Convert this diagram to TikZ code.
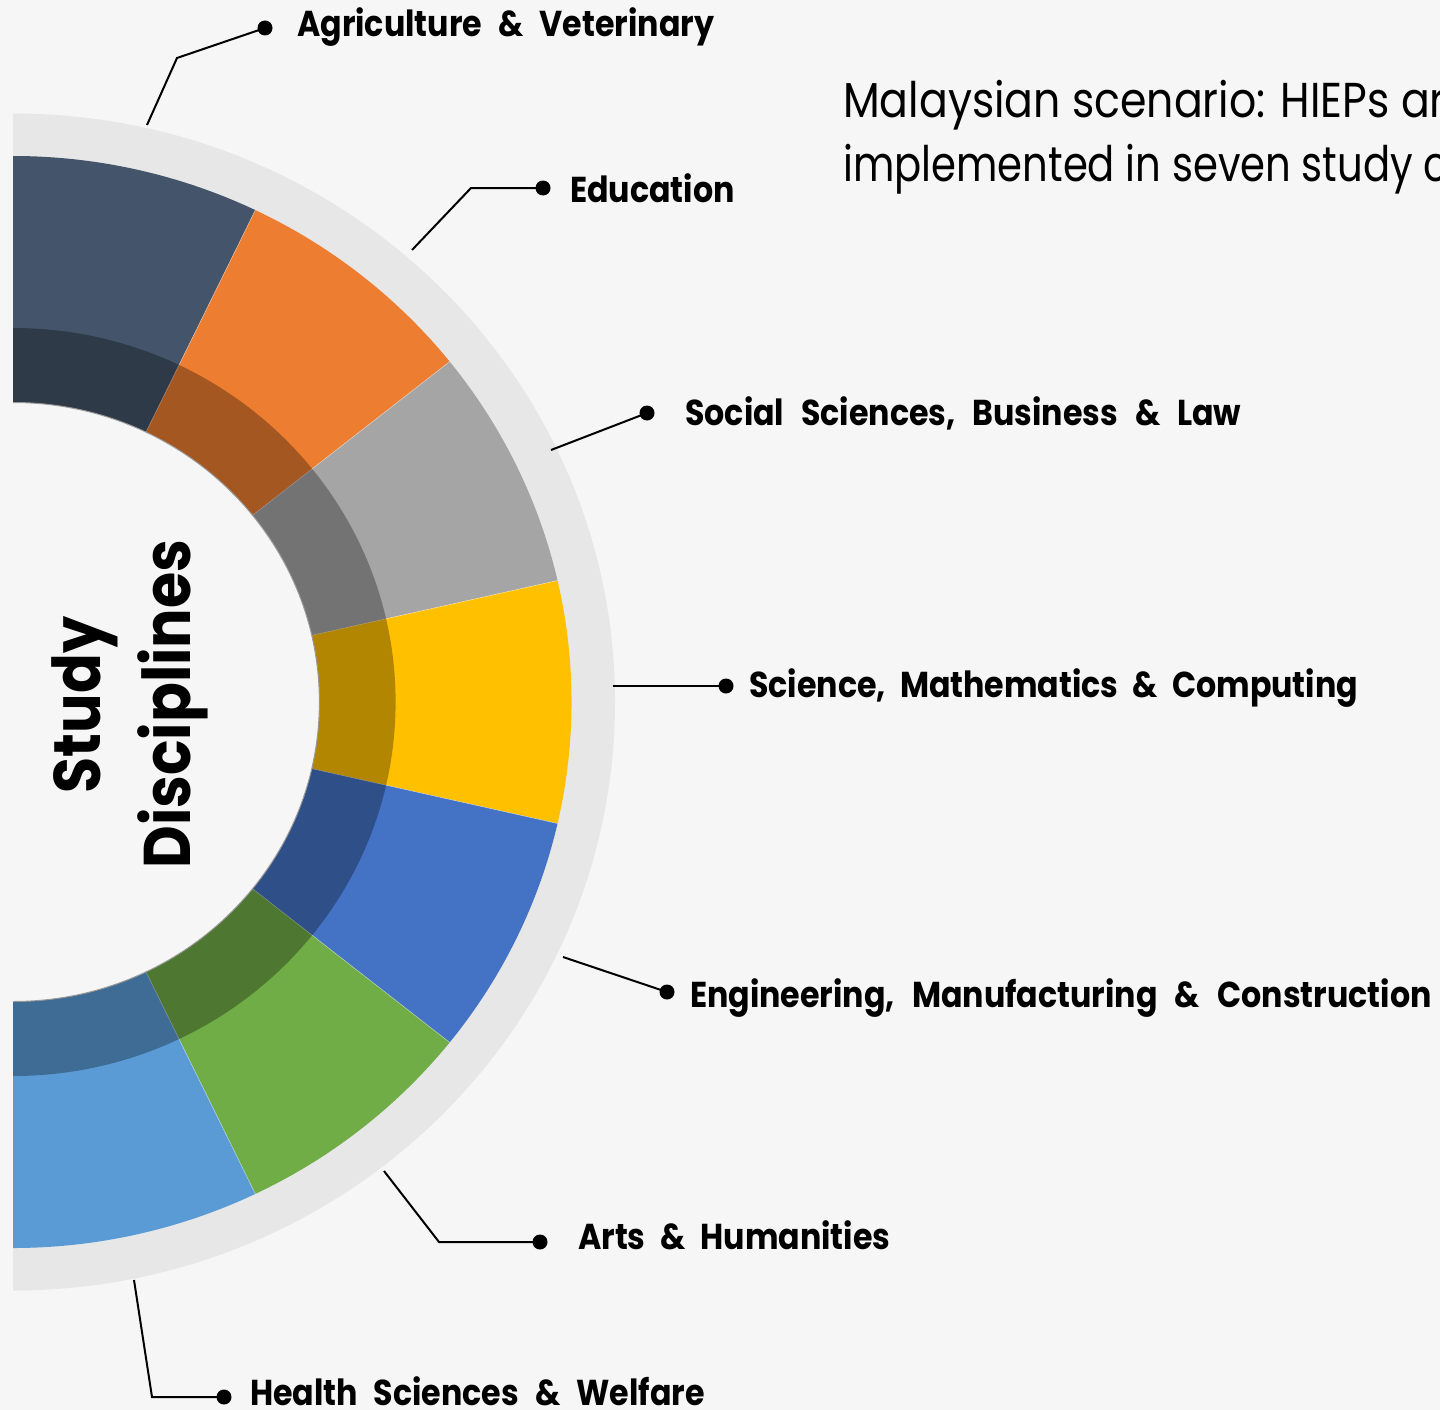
\documentclass[tikz,border=0pt]{standalone}
\usepackage{fontspec}
\setmainfont{Poppins}
\newfontfamily\labelfont{Poppins}[FakeStretch=0.88]
\newfontfamily\titlefont{Poppins}[FakeStretch=0.87]
\newfontfamily\titlefontb{Poppins}[FakeStretch=0.82]
\newfontfamily\hubfont{Poppins}[FakeStretch=0.89]
\definecolor{bg}{HTML}{F6F6F6}
\definecolor{ring}{HTML}{E7E7E7}
\definecolor{cSlate}{HTML}{44546A}
\definecolor{cOrange}{HTML}{ED7D31}
\definecolor{cGray}{HTML}{A5A5A5}
\definecolor{cGold}{HTML}{FFC000}
\definecolor{cBlue}{HTML}{4472C4}
\definecolor{cGreen}{HTML}{70AD47}
\definecolor{cSky}{HTML}{5B9BD5}
\begin{document}
\begin{tikzpicture}[x=1pt,y=1pt,
  leader/.style={line width=2pt, black},
  dotmark/.style={circle, fill=black, inner sep=0pt, minimum size=15pt},
  lab/.style={anchor=base west, inner sep=0pt,
    font=\labelfont\bfseries\fontsize{36}{40}\selectfont},
  hub/.style={anchor=base, inner sep=0pt, rotate=90,
    font=\hubfont\bfseries\fontsize{66}{70}\selectfont},
  head/.style={anchor=base west, inner sep=0pt}]
\useasboundingbox (0,0) rectangle (1440,-1410);
\clip (0,0) rectangle (1440,-1410);
\fill[bg] (0,0) rectangle (1440,-1410);

% half donut
\begin{scope}[shift={(13,-702)}, xscale=1.023]
  \fill[ring] (90:588.5pt) arc[start angle=90, end angle=-90, radius=588.5pt] -- cycle;
  \foreach \c [count=\i from 0] in {cSlate,cOrange,cGray,cGold,cBlue,cGreen,cSky} {
    \pgfmathsetmacro\aa{90-\i*180/7}
    \pgfmathsetmacro\ab{90-(\i+1)*180/7}
    \fill[\c] (\aa:299.5pt) -- (\aa:546pt) arc[start angle=\aa, end angle=\ab, radius=546pt]
      -- (\ab:299.5pt) arc[start angle=\ab, end angle=\aa, radius=299.5pt] -- cycle;
  }
  \foreach \i in {1,...,6} {
    \pgfmathsetmacro\aa{90-\i*180/7}
    \draw[white, opacity=0.45, line width=0.6pt] (\aa:299.5pt) -- (\aa:546pt);
  }
  % darker inner band
  \fill[black, opacity=0.3] (90:299.5pt) -- (90:374pt) arc[start angle=90, end angle=-90, radius=374pt]
    -- (-90:299.5pt) arc[start angle=-90, end angle=90, radius=299.5pt] -- cycle;
  % hollow centre
  \fill[bg] (90:299.5pt) arc[start angle=90, end angle=-90, radius=299.5pt] -- cycle;
  \draw[black!40, line width=1pt] (90:299.5pt) arc[start angle=90, end angle=-90, radius=299.5pt];
\end{scope}

% centre title
\node[hub] (hubA) at (100,-705) {Study};
\node[hub] (hubB) at (190,-704) {Disciplines};

% headline
\node[head, font=\titlefont\fontsize{49}{52}\selectfont] (headA) at (843,-118) {Malaysian scenario: HIEPs ar};
\node[head, font=\titlefontb\fontsize{49}{52}\selectfont] (headB) at (843,-181) {implemented in seven study c};

% labels
\node[lab] (lA) at (297,-37) {Agriculture\hspace{16.2pt}\&\hspace{16.2pt}Veterinary};
\node[lab] (lB) at (570,-202) {Education};
\node[lab] (lC) at (685,-425) {Social\hspace{17pt}Sciences,\hspace{17pt}Business\hspace{17pt}\&\hspace{17pt}Law};
\node[lab] (lD) at (749,-697) {Science,\hspace{14.2pt}Mathematics\hspace{14.2pt}\&\hspace{14.2pt}Computing};
\node[lab] (lE) at (690,-1007) {Engineering,\hspace{17.4pt}Manufacturing\hspace{17.4pt}\&\hspace{17.4pt}Construction};
\node[lab] (lF) at (578,-1249) {Arts\hspace{14.9pt}\&\hspace{14.9pt}Humanities};
\node[lab] (lG) at (250,-1405) {Health\hspace{16pt}Sciences\hspace{16pt}\&\hspace{16pt}Welfare};

% leader dots
\node[dotmark] (dA) at (265,-28) {};
\node[dotmark] (dB) at (543,-188) {};
\node[dotmark] (dC) at (647,-413) {};
\node[dotmark] (dD) at (726,-686) {};
\node[dotmark] (dE) at (667,-992) {};
\node[dotmark] (dF) at (540,-1242) {};
\node[dotmark] (dG) at (224,-1397) {};

% leader start points and elbows
\coordinate (sA) at (147,-125);  \coordinate (eA) at (177,-58);
\coordinate (sB) at (412,-250);  \coordinate (eB) at (471,-188);
\coordinate (sC) at (551,-450);
\coordinate (sD) at (613,-686);
\coordinate (sE) at (563,-957);
\coordinate (sF) at (384,-1171); \coordinate (eF) at (439,-1242);
\coordinate (sG) at (134,-1280); \coordinate (eG) at (152,-1397);

\draw[leader] (sA) -- (eA) -- (dA.center);
\draw[leader] (sB) -- (eB) -- (dB.center);
\draw[leader] (sC) -- (dC.center);
\draw[leader] (sD) -- (dD.center);
\draw[leader] (sE) -- (dE.center);
\draw[leader] (sF) -- (eF) -- (dF.center);
\draw[leader] (sG) -- (eG) -- (dG.center);
\end{tikzpicture}
\end{document}
